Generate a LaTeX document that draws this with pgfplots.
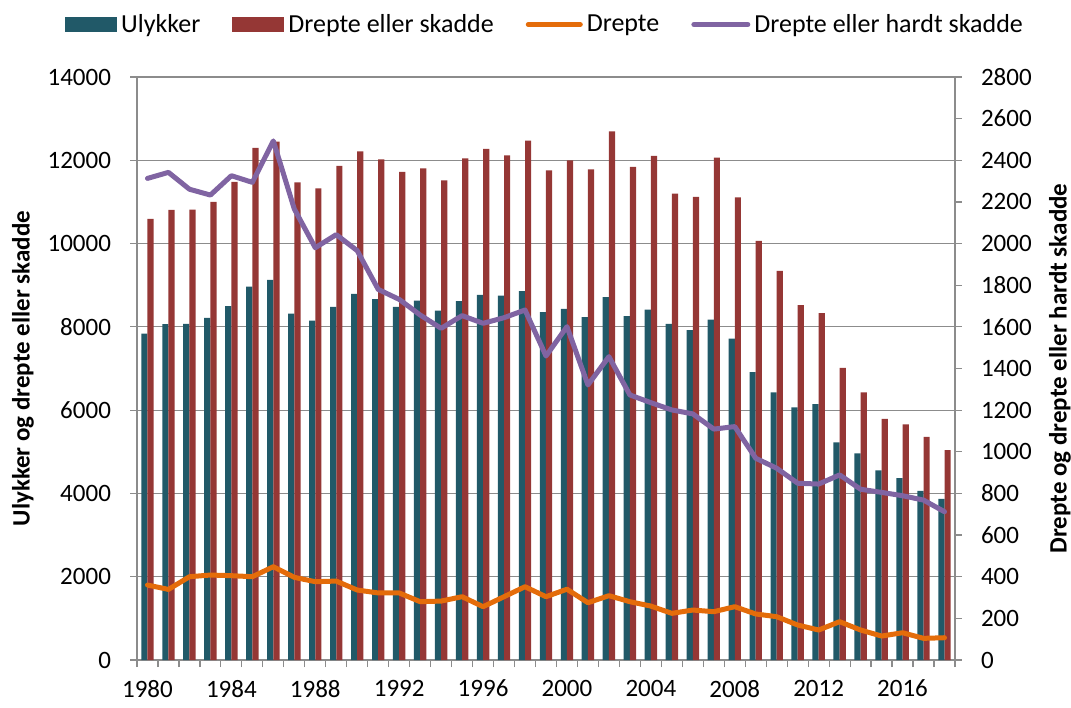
\documentclass[border=0pt]{standalone}
\usepackage{fontspec}
\setmainfont{Carlito}
\usepackage{pgfplots}
\pgfplotsset{compat=1.18}
\definecolor{cteal}{HTML}{215968}
\definecolor{cred}{HTML}{953735}
\definecolor{corange}{HTML}{E46C0A}
\definecolor{cpurple}{HTML}{8064A2}
\definecolor{cgrid}{HTML}{8C8C8C}
\pgfplotsset{
  /pgf/number format/assume math mode=true,
  /pgf/number format/1000 sep={},
  common/.style={
    at={(0,0)}, anchor=south west,
    scale only axis, width=409pt, height=291.5pt,
    xmin=1979.5, xmax=2018.5,
    scaled y ticks=false,
    tick align=outside,
    tick label style={font=\fontsize{12.5}{15}\selectfont},
    axis line style={cgrid, line width=0.6pt},
    every tick/.style={cgrid, line width=0.6pt},
    major tick length=3.5pt, minor tick length=3.5pt,
  }
}
\begin{document}
\begin{tikzpicture}
\useasboundingbox (-68.5pt,-23.5pt) rectangle (467pt,330pt);
\begin{axis}[common,
  ymin=0, ymax=14000,
  ytick={0,2000,...,14000},
  xtick={1980,1984,...,2016},
  minor xtick={1979.5,1980.5,...,2018.5},
  major x tick style={draw=none},
  yticklabel style={xshift=-6pt},
  xticklabel style={yshift=-3pt},
  ymajorgrids, grid style={cgrid, line width=0.6pt},
  axis y line*=left, axis x line*=bottom,
  ybar=0pt, bar width=3.1pt,
  ylabel={Ulykker og drepte eller skadde},
  ylabel style={font=\bfseries\fontsize{12.5}{15}\selectfont, at={(axis description cs:-0.1394,0.5)}, anchor=center},
  legend columns=4,
  legend style={draw=none, at={(0.5,1.0900)}, anchor=center,
    font=\fontsize{13}{15}\selectfont, inner xsep=0pt, inner ysep=0pt,
    /tikz/every even column/.append style={column sep=14pt},
    /tikz/every odd column/.append style={column sep=0pt}},
]
\addplot[fill=cteal, draw=none, legend image code/.code={\fill[cteal] (0pt,-3.75pt) rectangle (26pt,3.75pt);}] coordinates {
(1980,7840) (1981,8064) (1982,8072) (1983,8216) (1984,8496) (1985,8968) (1986,9128) (1987,8320) (1988,8152) (1989,8480)
(1990,8792) (1991,8664) (1992,8480) (1993,8632) (1994,8392) (1995,8616) (1996,8768) (1997,8752) (1998,8856) (1999,8352)
(2000,8432) (2001,8232) (2002,8712) (2003,8256) (2004,8416) (2005,8072) (2006,7920) (2007,8176) (2008,7720) (2009,6912)
(2010,6424) (2011,6064) (2012,6144) (2013,5224) (2014,4960) (2015,4552) (2016,4368) (2017,4064) (2018,3872)};
\addlegendentry{Ulykker}
\addplot[fill=cred, draw=none, legend image code/.code={\fill[cred] (0pt,-3.75pt) rectangle (26pt,3.75pt);}] coordinates {
(1980,10591) (1981,10807) (1982,10816) (1983,10999) (1984,11479) (1985,12296) (1986,12448) (1987,11472) (1988,11328) (1989,11864)
(1990,12216) (1991,12024) (1992,11720) (1993,11808) (1994,11520) (1995,12048) (1996,12272) (1997,12120) (1998,12472) (1999,11760)
(2000,12000) (2001,11784) (2002,12696) (2003,11840) (2004,12104) (2005,11200) (2006,11120) (2007,12064) (2008,11112) (2009,10064)
(2010,9344) (2011,8520) (2012,8328) (2013,7016) (2014,6424) (2015,5792) (2016,5656) (2017,5360) (2018,5040)};
\addlegendentry{Drepte eller skadde}
\addlegendimage{legend image code/.code={\draw[corange, line width=2.5pt, line cap=round] (1pt,0pt) -- (27pt,0pt);}}
\addlegendentry{Drepte}
\addlegendimage{legend image code/.code={\draw[cpurple, line width=2.5pt, line cap=round] (1pt,0pt) -- (28pt,0pt);}}
\addlegendentry{Drepte eller hardt skadde}
\end{axis}
\begin{axis}[common,
  ymin=0, ymax=2800,
  ytick={0,200,...,2800},
  yticklabel style={xshift=6pt},
  axis x line=none, axis y line*=right,
  ylabel={Drepte og drepte eller hardt skadde},
  ylabel style={font=\bfseries\fontsize{12.5}{15}\selectfont, at={(axis description cs:1.1284,0.5)}, anchor=center},
]
\addplot[corange, line width=2.5pt, line join=round, line cap=round] coordinates {
(1980,360) (1981,339) (1982,400) (1983,408) (1984,405) (1985,400) (1986,448) (1987,397) (1988,376) (1989,379)
(1990,336) (1991,322) (1992,322) (1993,280) (1994,283) (1995,304) (1996,256) (1997,304) (1998,352) (1999,304)
(2000,340) (2001,275) (2002,309) (2003,280) (2004,259) (2005,224) (2006,240) (2007,232) (2008,256) (2009,221)
(2010,208) (2011,168) (2012,144) (2013,184) (2014,144) (2015,115) (2016,131) (2017,104) (2018,107)};
\addplot[cpurple, line width=2.5pt, line join=round, line cap=round] coordinates {
(1980,2313) (1981,2342) (1982,2261) (1983,2233) (1984,2326) (1985,2294) (1986,2493) (1987,2166) (1988,1980) (1989,2043)
(1990,1966) (1991,1780) (1992,1732) (1993,1657) (1994,1593) (1995,1654) (1996,1617) (1997,1644) (1998,1681) (1999,1460)
(2000,1601) (2001,1321) (2002,1457) (2003,1273) (2004,1236) (2005,1201) (2006,1182) (2007,1109) (2008,1121) (2009,969)
(2010,921) (2011,849) (2012,845) (2013,889) (2014,820) (2015,805) (2016,789) (2017,768) (2018,712)};
\end{axis}
\end{tikzpicture}
\end{document}
